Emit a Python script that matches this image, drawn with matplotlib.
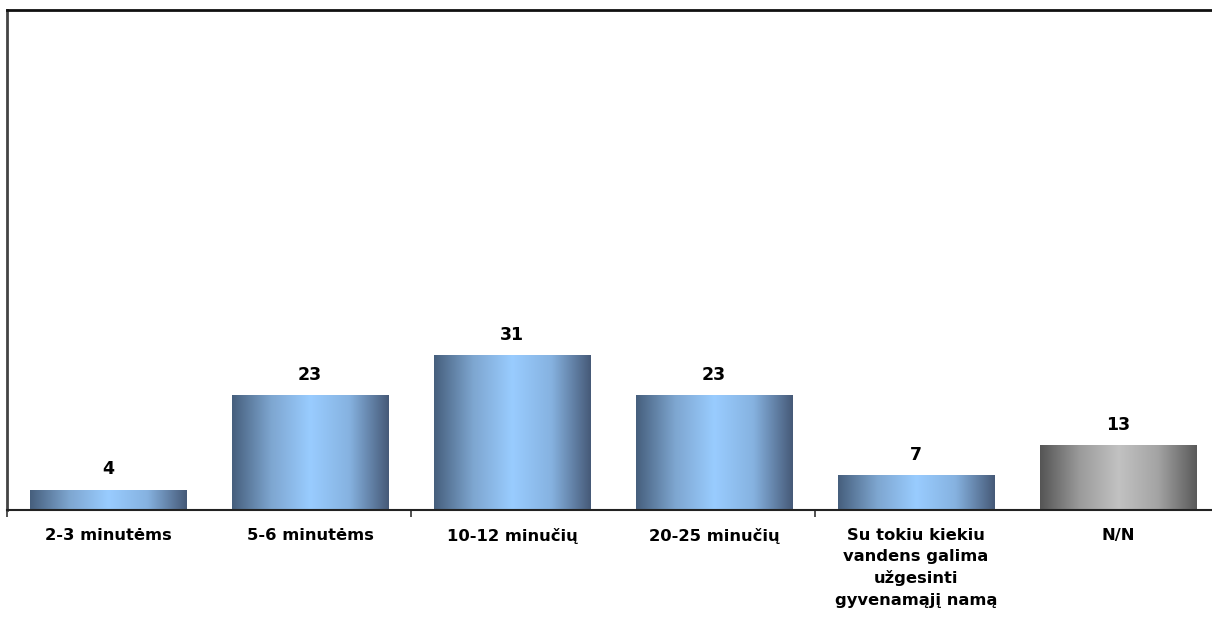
import matplotlib.pyplot as plt
import numpy as np
from matplotlib.colors import LinearSegmentedColormap

# data
categories = ['2-3 minutėms', '5-6 minutėms', '10-12 minučių', '20-25 minučių',
              'Su tokiu kiekiu\nvandens galima\nužgesinti\ngyvenamąjį namą', 'N/N']
values = [4, 23, 31, 23, 7, 13]
is_gray = [False, False, False, False, False, True]

blue = LinearSegmentedColormap.from_list(
    'blue', ['#465f7d', '#7ea6d0', '#99ccff', '#86b2e0', '#465a78'])
gray = LinearSegmentedColormap.from_list(
    'gray', ['#555555', '#9a9a9a', '#c2c2c2', '#a4a4a4', '#5a5a5a'])

fig = plt.figure(figsize=(12.12, 6.2), dpi=100)
ax = fig.add_axes([7 / 1212, 110 / 620, 1212 / 1212, 500 / 620])

x = np.arange(len(values))
w = 0.775
grad = np.linspace(0, 1, 256).reshape(1, -1)
for xi, v, g in zip(x, values, is_gray):
    ax.imshow(grad, cmap=gray if g else blue, aspect='auto',
              extent=(xi - w / 2, xi + w / 2, 0, v), zorder=2)
    ax.text(xi, v + 2.3, str(v), ha='center', va='bottom',
            fontsize=12.5, fontweight='heavy')

ax.set_xlim(-0.5, len(values) - 0.5)
ax.set_ylim(0, 100)

# ticks at every second category boundary
ax.set_xticks([-0.5, 1.5, 3.5, 5.5])
ax.set_xticklabels([])
ax.tick_params(axis='x', direction='out', length=5, width=1.2, color='#333333')
ax.set_yticks([])
for xi, lab in zip(x, categories):
    ax.text(xi, -3.6, lab, ha='center', va='top', fontsize=11.8,
            fontweight='heavy', linespacing=1.5)

ax.spines['right'].set_visible(False)
ax.spines['top'].set_color('#111111')
ax.spines['top'].set_linewidth(2)
ax.spines['left'].set_color('#444444')
ax.spines['left'].set_linewidth(2)
ax.spines['bottom'].set_color('#222222')
ax.spines['bottom'].set_linewidth(1.5)

plt.savefig('out.png', dpi=100)
